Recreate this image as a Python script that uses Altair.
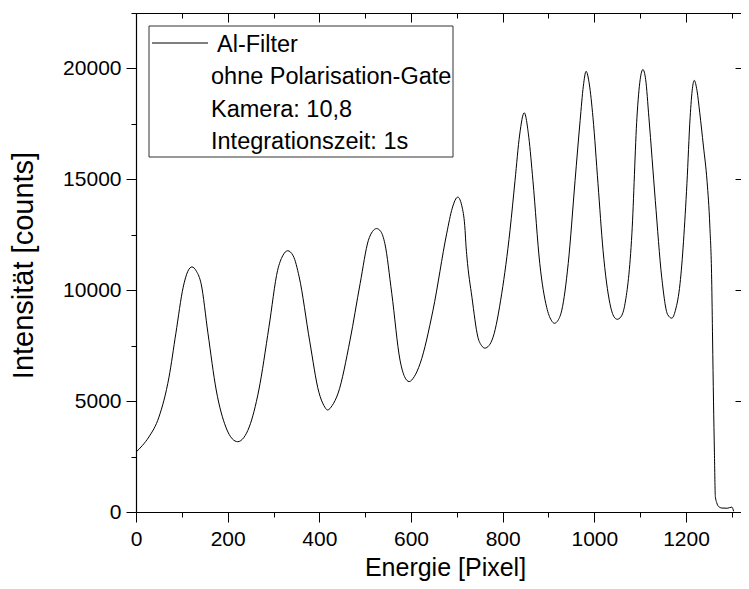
import altair as alt
import pandas as pd

# ---- data ----
pixel = [0, 14, 28, 50, 72, 87, 103, 113, 122, 132, 142, 157, 175, 196, 210, 222, 235, 247,
         268, 290, 309, 320, 331, 343, 356, 379, 399, 410, 418, 428, 441, 467, 489, 507,
         516, 525, 534, 543, 558, 576, 586, 596, 607, 620, 648, 678, 690, 702, 712, 718,
         720, 722, 733, 746, 754, 761, 770, 779, 798, 816, 827, 837, 847, 857, 866, 881,
         896, 906, 913, 921, 929, 943, 958, 969, 976, 982, 989, 997, 1008, 1019, 1034,
         1043, 1050, 1058, 1067, 1082, 1093, 1100, 1106, 1112, 1119, 1133, 1147, 1160,
         1169, 1177, 1187, 1202, 1209, 1214, 1218, 1224, 1230, 1238, 1246, 1252, 1256,
         1258, 1260, 1262, 1264, 1267, 1271, 1278, 1290, 1300, 1304]
counts = [2700, 3000, 3380, 4280, 6080, 8060, 10140, 10850, 11050, 10850, 10300, 8060, 5500,
          3830, 3300, 3170, 3350, 3830, 5500, 8330, 10900, 11550, 11780, 11550, 10600, 7700,
          5400, 4800, 4600, 4800, 5360, 7750, 10300, 12250, 12650, 12780, 12650, 12100, 9860,
          6850, 6100, 5880, 6100, 6700, 9100, 12570, 13700, 14200, 13700, 12700, 12000, 11500,
          9680, 7880, 7500, 7390, 7500, 7880, 9860, 12700, 14950, 17000, 18000, 16900, 14950,
          11200, 9230, 8650, 8510, 8650, 9100, 11200, 14950, 17650, 19200, 19870, 19300,
          17800, 14800, 11800, 9400, 8800, 8690, 8800, 9400, 12570, 17800, 19500, 19950,
          19500, 17800, 14050, 10590, 8900, 8740, 9100, 10300, 14800, 17800, 19100, 19460,
          19000, 18000, 16500, 14900, 12900, 10500, 7800, 5000, 2700, 700, 420, 250, 180,
          170, 220, 30]

x_major = [0, 200, 400, 600, 800, 1000, 1200]
x_minor = [100, 300, 500, 700, 900, 1100, 1300]
y_major = [0, 5000, 10000, 15000, 20000]
y_minor = [2500, 7500, 12500, 17500, 22500]

x_title = "Energie [Pixel]"
y_title = "Intensität [counts]"
legend_series = ["Al-Filter"]
legend_notes = ["ohne Polarisation-Gate", "Kamera: 10,8", "Integrationszeit: 1s"]

FONT = "Liberation Sans"
W, H = 605, 499
X_DOMAIN = [0, 1320]
Y_DOMAIN = [0, 22500]

df = pd.DataFrame({"px": pixel, "counts": counts})
base = alt.Chart(df)


def xenc(axis):
    return alt.X("px:Q", scale=alt.Scale(domain=X_DOMAIN, nice=False, zero=False), axis=axis)


def yenc(axis):
    return alt.Y("counts:Q", scale=alt.Scale(domain=Y_DOMAIN, nice=False), axis=axis)


line = base.mark_line(color="black", strokeWidth=1, interpolate="monotone").encode(
    x=xenc(alt.Axis(orient="bottom", values=x_major, format="d", tickSize=10, labelPadding=6,
                    labelFlush=False, title=x_title, titleX=309, titleY=63.5, titleFontSize=25,
                    titleAlign="center", titleBaseline="alphabetic")),
    y=yenc(alt.Axis(orient="left", values=y_major, format="d", tickSize=10, labelPadding=5,
                    labelFlush=False, title=y_title, titleX=-104, titleY=252, titleAngle=270,
                    titleFontSize=29, titleAlign="center", titleBaseline="alphabetic")),
)

minor = base.mark_line(opacity=0).encode(
    x=xenc(alt.Axis(orient="bottom", values=x_minor, tickSize=5, labels=False, domain=False, title="")),
    y=yenc(alt.Axis(orient="left", values=y_minor, tickSize=5, labels=False, domain=False, title="")),
)

frame_major = base.mark_line(opacity=0).encode(
    x=xenc(alt.Axis(orient="bottom", offset=-H, values=x_major, tickSize=9, labels=False, title="")),
    y=yenc(alt.Axis(orient="left", offset=-W, values=y_major, tickSize=6, labels=False, domain=False, title="")),
)

frame_minor = base.mark_line(opacity=0).encode(
    x=xenc(alt.Axis(orient="bottom", offset=-H, values=x_minor, tickSize=5, labels=False, domain=False, title="")),
)

one = pd.DataFrame({"k": [0]})
legend_box = alt.Chart(one).mark_rect(fillOpacity=0, stroke="#333333", strokeWidth=1).encode(
    x=alt.value(13), x2=alt.value(317), y=alt.value(13), y2=alt.value(144)
)
legend_line = alt.Chart(one).mark_rule(color="black", strokeWidth=1).encode(
    x=alt.value(16), x2=alt.value(72), y=alt.value(30)
)
legend_t1 = alt.Chart(pd.DataFrame({"t": legend_series})).mark_text(
    align="left", baseline="alphabetic", font=FONT, fontSize=23.5, color="black"
).encode(x=alt.value(81), y=alt.value(39), text="t:N")
legend_t2 = alt.Chart(pd.DataFrame({"t": ["\n".join(legend_notes)]})).mark_text(
    align="left", baseline="alphabetic", font=FONT, fontSize=23.5, color="black",
    lineBreak="\n", lineHeight=32.5
).encode(x=alt.value(75), y=alt.value(71), text="t:N")

chart = alt.layer(
    line, minor, frame_major, frame_minor, legend_box, legend_line, legend_t1, legend_t2
).resolve_axis(x="independent", y="independent").properties(
    width=W, height=H,
    padding={"left": 128, "top": 5, "right": 0, "bottom": 69},
    autosize=alt.AutoSizeParams(type="none"),
).configure_view(strokeWidth=0).configure_axis(
    labelFont=FONT, labelFontSize=21, labelColor="black",
    titleFont=FONT, titleFontSize=24, titleFontWeight="normal", titleColor="black",
    tickColor="black", domainColor="black", tickWidth=1, domainWidth=1.2, grid=False,
)

chart.save("out.html", embed_options={"renderer": "svg", "actions": False})
